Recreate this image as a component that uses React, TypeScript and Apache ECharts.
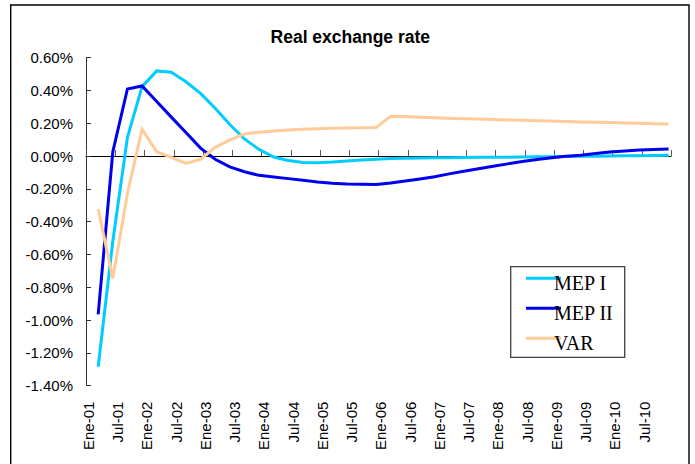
import React, { useEffect, useRef } from "react";
import * as echarts from "echarts";

// ---- Data ----
const years = ["01", "02", "03", "04", "05", "06", "07", "08", "09", "10"];
const monthNames = ["Ene", "Feb", "Mar", "Abr", "May", "Jun", "Jul", "Ago", "Sep", "Oct", "Nov", "Dic"];
// quarterly observations (Mar, Jun, Sep, Dic of each year 2001-2010), in %
const mep1 = [
  -1.285, -0.52, 0.114, 0.423, 0.519, 0.511, 0.453, 0.382, 0.291, 0.192,
  0.104, 0.040, -0.006, -0.027, -0.040, -0.041, -0.037, -0.031, -0.025, -0.020,
  -0.016, -0.014, -0.012, -0.010, -0.010, -0.009, -0.008, -0.008, -0.007, -0.006,
  -0.005, -0.004, -0.003, -0.002, -0.001, 0.000, 0.001, 0.002, 0.003, 0.004,
];
const mep2 = [
  -0.966, 0.026, 0.409, 0.427, 0.332, 0.237, 0.143, 0.048, -0.020, -0.066,
  -0.096, -0.118, -0.128, -0.138, -0.148, -0.158, -0.166, -0.171, -0.173, -0.174,
  -0.165, -0.153, -0.140, -0.126, -0.109, -0.093, -0.078, -0.063, -0.048, -0.033,
  -0.021, -0.010, -0.002, 0.005, 0.015, 0.025, 0.031, 0.036, 0.040, 0.043,
];
const varS = [
  -0.325, -0.746, -0.228, 0.163, 0.026, -0.008, -0.045, -0.020, 0.053, 0.098,
  0.134, 0.145, 0.153, 0.158, 0.163, 0.166, 0.169, 0.171, 0.172, 0.173,
  0.243, 0.241, 0.237, 0.233, 0.230, 0.227, 0.225, 0.222, 0.220, 0.218,
  0.215, 0.213, 0.210, 0.208, 0.206, 0.204, 0.201, 0.199, 0.197, 0.195,
];
const seriesNames = ["MEP I", "MEP II", "VAR"];
const seriesColors = ["#00CCFF", "#0000EE", "#FFCC99"];
const titleText = "Real exchange rate";
const yMin = -1.4;
const yMax = 0.6;
const yStep = 0.2;

const months: string[] = [];
years.forEach((y) => monthNames.forEach((m) => months.push(`${m}-${y}`)));

function toMonthly(q: number[]): (number | null)[] {
  return months.map((_, i) => (i % 3 === 2 ? q[(i - 2) / 3] : null));
}

export default function App() {
  const ref = useRef<HTMLDivElement>(null);
  useEffect(() => {
    if (!ref.current) return;
    const chart = echarts.init(ref.current, undefined, { renderer: "svg" });
    const font = 'Arial, "Liberation Sans", sans-serif';
    const serif = '"Times New Roman", "Liberation Serif", serif';
    const all = [mep1, mep2, varS];
    const legendX = 510.7;
    const legendY = 266.7;
    const legendItems: any[] = [];
    seriesNames.forEach((name, i) => {
      const ly = 278.3 + i * 30;
      legendItems.push({
        type: "line",
        shape: { x1: 526, y1: ly, x2: 561, y2: ly },
        style: { stroke: seriesColors[i], lineWidth: 3 },
        z: 101,
      });
    });
    seriesNames.forEach((name, i) => {
      legendItems.push({
        type: "text",
        x: 554,
        y: 283.3 + i * 30,
        style: {
          text: name,
          fontFamily: serif,
          fontSize: 20,
          fill: "#000",
          align: "left",
          verticalAlign: "middle",
        },
        z: 102,
      });
    });
    chart.setOption({
      animation: false,
      backgroundColor: "#fff",
      grid: { left: 86, top: 57.6, right: 24, bottom: 78.4, containLabel: false, outerBoundsMode: "none" },
      xAxis: [
        {
          type: "category",
          data: months,
          boundaryGap: true,
          position: "bottom",
          axisLine: { onZero: true, lineStyle: { color: "#000", width: 1 } },
          axisTick: { show: true, inside: true, length: 6, interval: 5, lineStyle: { color: "#555" } },
          axisLabel: { show: false },
          splitLine: { show: false },
        },
        {
          type: "category",
          data: months,
          boundaryGap: true,
          position: "bottom",
          axisLine: { show: false, onZero: false },
          axisTick: { show: false },
          axisLabel: {
            show: true,
            interval: 5,
            rotate: 90,
            margin: 16,
            fontFamily: font,
            fontSize: 15,
            color: "#000",
          },
          splitLine: { show: false },
        },
      ],
      yAxis: {
        type: "value",
        min: yMin,
        max: yMax,
        interval: yStep,
        axisLine: { show: true, lineStyle: { color: "#333", width: 1 } },
        axisTick: { show: true, inside: true, length: 5, lineStyle: { color: "#333" } },
        axisLabel: {
          margin: 13,
          fontFamily: font,
          fontSize: 15,
          color: "#000",
          formatter: (v: number) => `${v.toFixed(2)}%`,
        },
        splitLine: { show: false },
      },
      series: seriesNames.map((name, i) => ({
        name,
        type: "line",
        xAxisIndex: 0,
        data: toMonthly(all[i]),
        connectNulls: true,
        symbol: "none",
        lineStyle: { color: seriesColors[i], width: 3, join: "miter", cap: "butt" },
        itemStyle: { color: seriesColors[i] },
        z: 2 + i,
      })),
      graphic: [
        {
          type: "rect",
          shape: { x: 10.7, y: 5, width: 678.3, height: 480 },
          style: { fill: "none", stroke: "#000", lineWidth: 1.4 },
          silent: true,
          z: 100,
        },
        {
          type: "text",
          x: 350.3,
          y: 36.5,
          style: {
            text: titleText,
            fontFamily: font,
            fontWeight: "bold",
            fontSize: 17.5,
            fill: "#000",
            align: "center",
            verticalAlign: "middle",
          },
          z: 100,
        },
        {
          type: "rect",
          shape: { x: legendX, y: legendY, width: 114, height: 90.6 },
          style: { fill: "#fff", stroke: "#404040", lineWidth: 1.3 },
          z: 100,
        },
        ...legendItems,
      ],
    });
    return () => chart.dispose();
  }, []);
  return (
    <div
      ref={ref}
      style={{ position: "absolute", left: 0, top: 0, width: 695, height: 464, background: "#fff" }}
    />
  );
}
